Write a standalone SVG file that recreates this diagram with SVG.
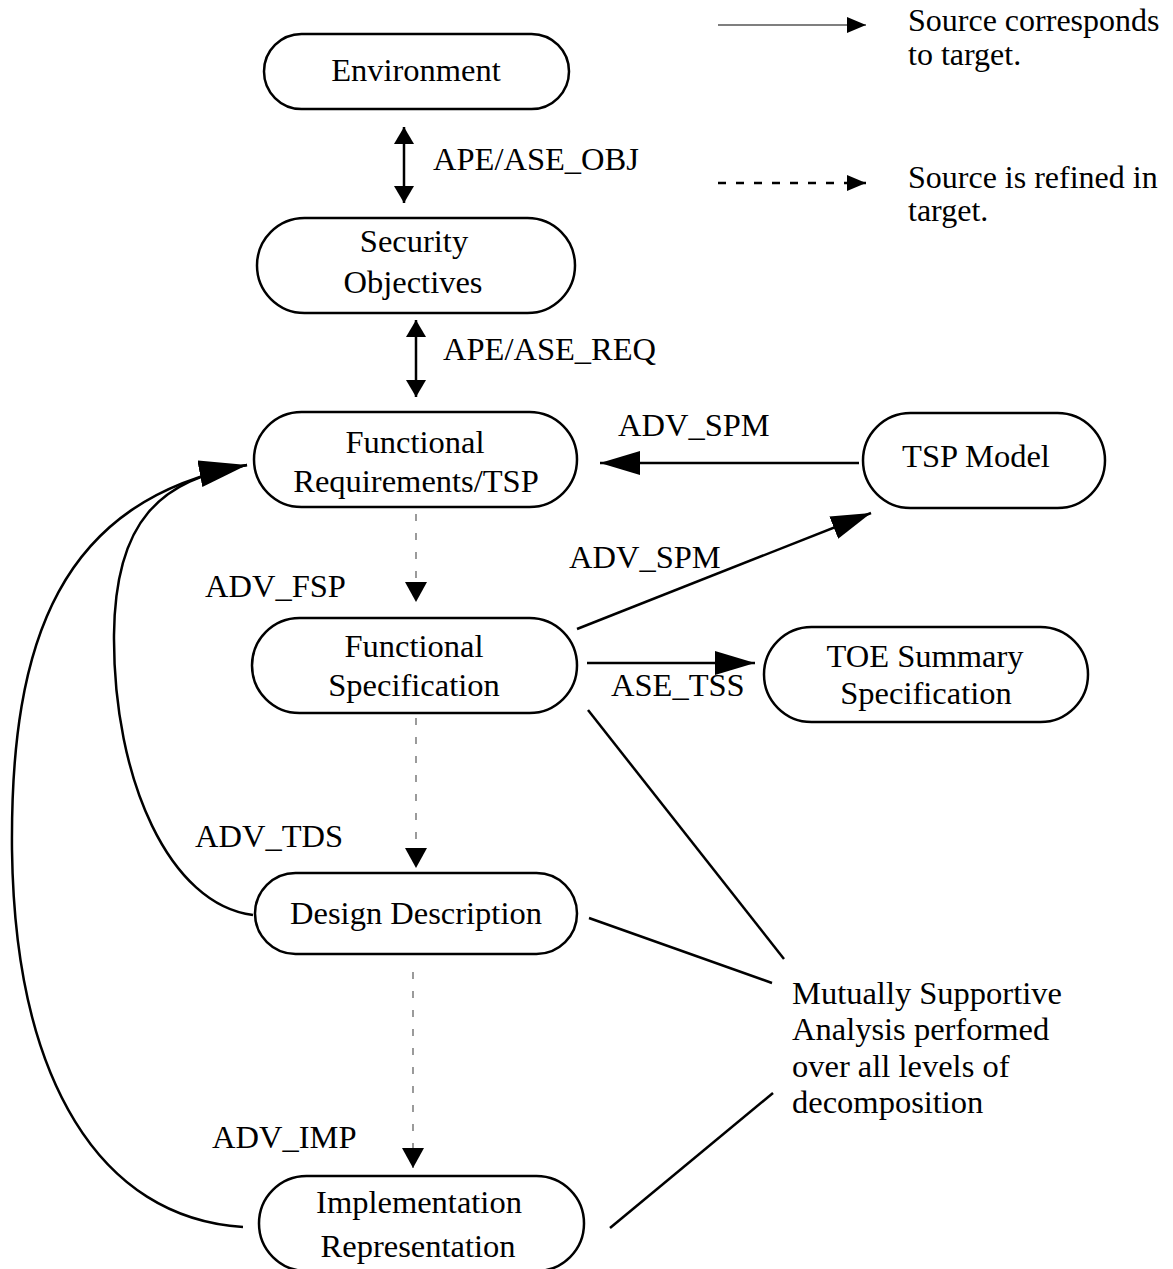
<svg xmlns="http://www.w3.org/2000/svg" width="1173" height="1269" viewBox="0 0 1173 1269">
<style>
text { font-family: "Liberation Serif", "Times New Roman", serif; font-size: 32.5px; fill: #000; }
.c { text-anchor: middle; }
.node rect { fill: #fff; stroke: #000; stroke-width: 2.5; }
.conn { fill: none; stroke: #000; stroke-width: 2.5; }
.dash { fill: none; stroke: #666; stroke-width: 1.3; stroke-dasharray: 7 12; }
.thin { fill: none; stroke: #000; stroke-width: 1.2; }
.ldash { fill: none; stroke: #000; stroke-width: 2.5; stroke-dasharray: 8 10; }
.leg { font-size: 32px; }
</style>
<defs>
<marker id="big" markerUnits="userSpaceOnUse" markerWidth="42" markerHeight="26" refX="40" refY="12" orient="auto"><path d="M0,0 L40,12 L0,24 z" fill="#000"/></marker>
<marker id="curve" markerUnits="userSpaceOnUse" markerWidth="50" markerHeight="28" refX="48" refY="13.5" orient="auto"><path d="M0,0 L48,13.5 L0,27 z" fill="#000"/></marker>
<marker id="small" markerUnits="userSpaceOnUse" markerWidth="19" markerHeight="20" refX="17" refY="10" orient="auto-start-reverse"><path d="M0,0 L17,10 L0,20 z" fill="#000"/></marker>
<marker id="dsm" markerUnits="userSpaceOnUse" markerWidth="21" markerHeight="22" refX="20" refY="11" orient="auto"><path d="M0,0 L20,11 L0,22 z" fill="#000"/></marker>
<marker id="leg" markerUnits="userSpaceOnUse" markerWidth="21" markerHeight="18" refX="19" refY="8" orient="auto"><path d="M0,0 L19,8 L0,16 z" fill="#000"/></marker>
</defs>

<g id="connectors">
  <line class="conn" x1="404" y1="127" x2="404" y2="203" marker-start="url(#small)" marker-end="url(#small)"/>
  <line class="conn" x1="416" y1="320" x2="416" y2="397" marker-start="url(#small)" marker-end="url(#small)"/>
  <line class="dash" x1="416" y1="514" x2="416" y2="602" marker-end="url(#dsm)"/>
  <line class="dash" x1="416" y1="718" x2="416" y2="868" marker-end="url(#dsm)"/>
  <line class="dash" x1="413" y1="972" x2="413" y2="1168" marker-end="url(#dsm)"/>
  <line class="conn" x1="859" y1="463" x2="600" y2="463" marker-end="url(#big)"/>
  <line class="conn" x1="577" y1="629" x2="871" y2="513" marker-end="url(#big)"/>
  <line class="conn" x1="587" y1="663" x2="755" y2="663" marker-end="url(#big)"/>
  <path class="conn" d="M 253 915 C 170 905, 113 780, 114 635 C 115 520, 160 480, 247 465"/>
  <path class="conn" d="M 243 1227 C 100 1218, 15 1080, 12 850 C 10 640, 60 500, 247 465" marker-end="url(#curve)"/>
  <line class="conn" x1="588" y1="710" x2="784" y2="959"/>
  <line class="conn" x1="589" y1="918" x2="772" y2="983"/>
  <line class="conn" x1="610" y1="1228" x2="773" y2="1093"/>
  <text x="433" y="170">APE/ASE_OBJ</text>
  <text x="443" y="360">APE/ASE_REQ</text>
  <text x="618" y="436">ADV_SPM</text>
  <text x="569" y="568">ADV_SPM</text>
  <text x="611" y="696">ASE_TSS</text>
  <text x="205" y="597">ADV_FSP</text>
  <text x="195" y="847">ADV_TDS</text>
  <text x="212" y="1148">ADV_IMP</text>
</g>

<g id="env" class="node"><rect x="264" y="34" width="305" height="75" rx="37.5"/><text class="c" x="416" y="81">Environment</text></g>
<g id="secobj" class="node"><rect x="257" y="218" width="318" height="95" rx="47.5"/><text class="c" x="414" y="252">Security</text><text class="c" x="413" y="293">Objectives</text></g>
<g id="funcreq" class="node"><rect x="254" y="412" width="323" height="95" rx="47.5"/><text class="c" x="415" y="453">Functional</text><text class="c" x="416" y="492">Requirements/TSP</text></g>
<g id="tsp" class="node"><rect x="863" y="413" width="242" height="95" rx="47.5"/><text class="c" x="976" y="467">TSP Model</text></g>
<g id="funcspec" class="node"><rect x="252" y="618" width="325" height="95" rx="47.5"/><text class="c" x="414" y="657">Functional</text><text class="c" x="414" y="696">Specification</text></g>
<g id="toe" class="node"><rect x="764" y="627" width="324" height="95" rx="47.5"/><text class="c" x="925" y="667">TOE Summary</text><text class="c" x="926" y="704">Specification</text></g>
<g id="design" class="node"><rect x="255" y="873" width="322" height="81" rx="40.5"/><text class="c" x="416" y="924">Design Description</text></g>
<g id="impl" class="node"><rect x="259" y="1176" width="325" height="95" rx="47.5"/><text class="c" x="419" y="1213">Implementation</text><text class="c" x="418" y="1257">Representation</text></g>

<g id="note">
  <text x="792" y="1004">Mutually Supportive</text>
  <text x="792" y="1040">Analysis performed</text>
  <text x="792" y="1077">over all levels of</text>
  <text x="792" y="1113">decomposition</text>
</g>

<g id="legend">
  <line class="thin" x1="718" y1="25" x2="866" y2="25" marker-end="url(#leg)"/>
  <text class="leg" x="908" y="31">Source corresponds</text>
  <text class="leg" x="908" y="65">to target.</text>
  <line class="ldash" x1="718" y1="183" x2="866" y2="183" marker-end="url(#leg)"/>
  <text class="leg" x="908" y="188">Source is refined in</text>
  <text class="leg" x="908" y="221">target.</text>
</g>
</svg>
